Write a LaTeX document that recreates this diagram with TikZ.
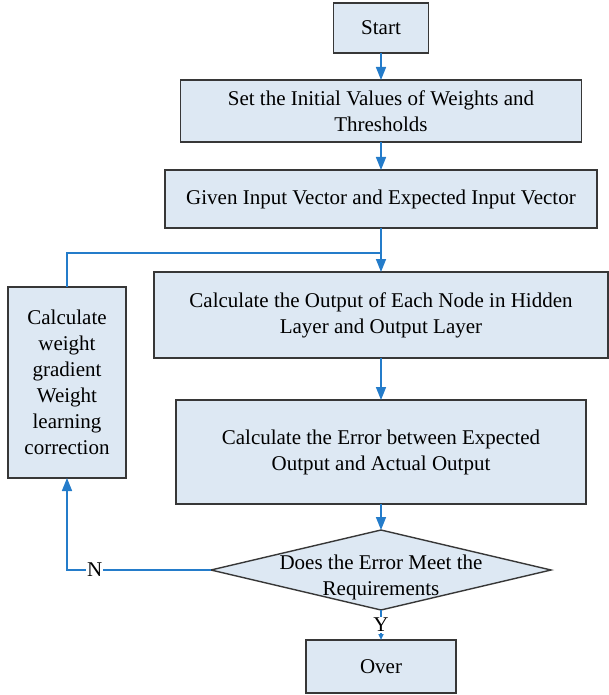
\documentclass[tikz,border=0pt]{standalone}
\usepackage{fontspec}
\setmainfont{Liberation Serif}
\usetikzlibrary{positioning, shapes.geometric, arrows.meta}
\definecolor{boxfill}{RGB}{221,232,243}
\definecolor{boxline}{RGB}{55,55,55}
\definecolor{flowblue}{RGB}{36,124,202}

\tikzset{
  stepbox/.style={draw=boxline, fill=boxfill, line width=1.4pt, align=center,
    inner sep=0pt, outer sep=0pt, font=\fontsize{21}{26}\selectfont},
  flow/.style={draw=flowblue, line width=1.6pt, -{Triangle[width=10pt,length=13pt]}},
  flowline/.style={draw=flowblue, line width=1.6pt},
  tag/.style={fill=white, inner sep=1pt, font=\fontsize{21}{26}\selectfont},
}

\begin{document}
\begin{tikzpicture}[x=1pt, y=1pt]
  \useasboundingbox (0,0) rectangle (608,-695);

  \node[stepbox, minimum width=95pt, minimum height=50pt] (start) at (381,-28) {Start};
  \node[stepbox, minimum width=401pt, minimum height=62pt, below=27pt of start] (init)
    {Set the Initial Values of Weights and\\Thresholds};
  \node[stepbox, minimum width=432pt, minimum height=58pt, below=28pt of init] (input)
    {Given Input Vector and Expected Input Vector};
  \node[stepbox, minimum width=454pt, minimum height=86pt, below=44pt of input] (output)
    {Calculate the Output of Each Node in Hidden\\Layer and Output Layer};
  \node[stepbox, minimum width=410pt, minimum height=104pt, below=42pt of output] (error)
    {Calculate the Error between Expected\\Output and Actual Output};
  \node[stepbox, diamond, aspect=4.25, minimum width=340pt, minimum height=80pt,
    below=26pt of error, label={[stepbox, draw=none, fill=none, yshift=-7pt]center:Does the Error Meet the\\Requirements}] (check) {};
  \node[stepbox, minimum width=150pt, minimum height=53pt, below=30pt of check] (over) {Over};

  % correction loop
  \node[stepbox, minimum width=118pt, minimum height=191pt,
    below left=15pt and 28pt of output.north west] (grad)
    {Calculate\\weight\\gradient\\Weight\\learning\\correction};
  \coordinate[below=25pt of input.south] (join);

  \draw[flow] (start) -- (init);
  \draw[flow] (init) -- (input);
  \draw[flow] (input) -- (output);
  \draw[flow] (output) -- (error);
  \draw[flow] (error) -- (check);
  \draw[flow, -{Triangle[width=5pt,length=6pt]}] (check.south) -- node[tag] {Y} (over);
  \draw[flow] (check.west) -| node[tag, pos=0.404] {N} (grad.south);
  \draw[flowline] (grad.north) |- (join);
\end{tikzpicture}
\end{document}
